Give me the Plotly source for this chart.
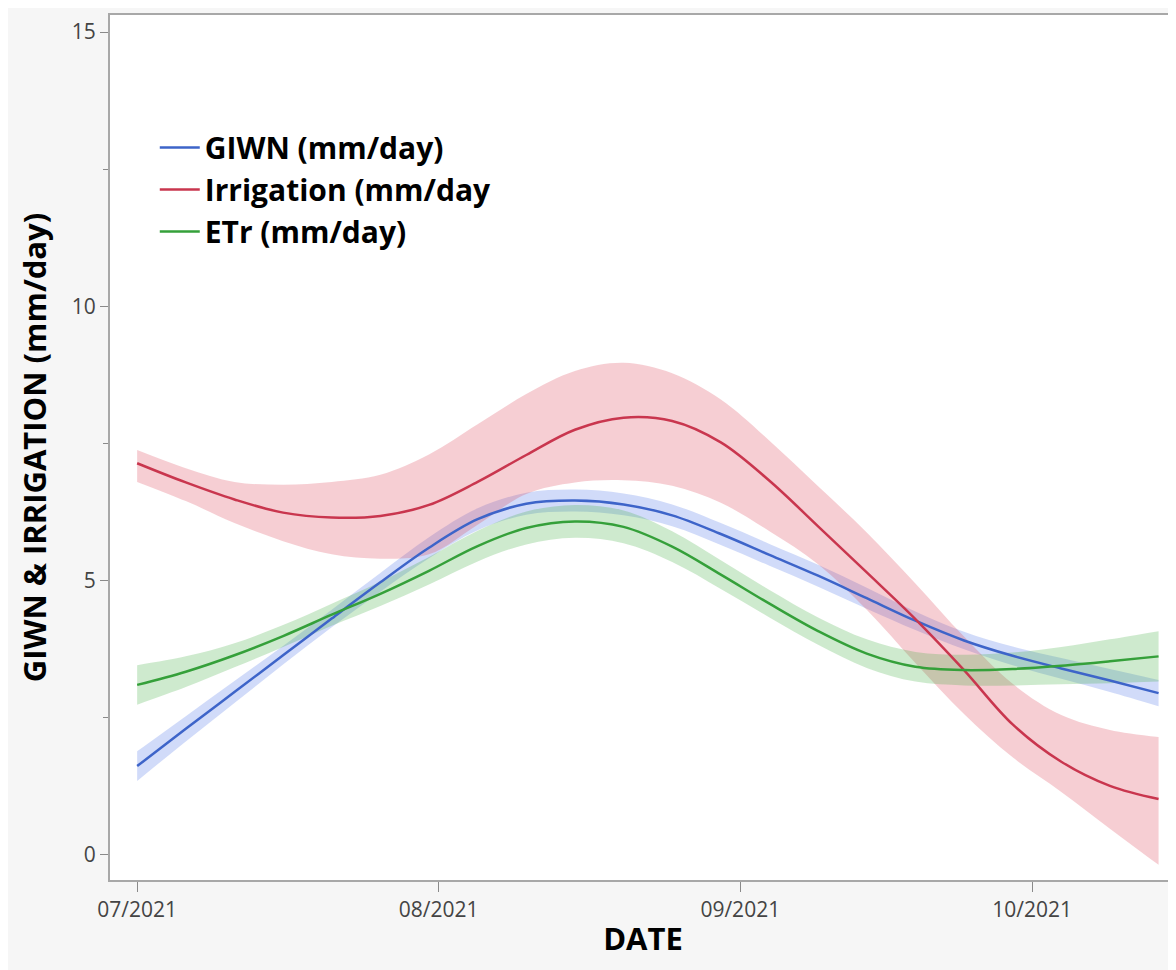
import plotly.graph_objects as go

dates = ["2021-07-01", "2021-07-06", "2021-07-11", "2021-07-16", "2021-07-21", "2021-07-26",
         "2021-07-31", "2021-08-05", "2021-08-10", "2021-08-15", "2021-08-20", "2021-08-25",
         "2021-08-30", "2021-09-04", "2021-09-09", "2021-09-14", "2021-09-19", "2021-09-24",
         "2021-09-29", "2021-10-04", "2021-10-09", "2021-10-14"]

giwn = [1.62, 2.30, 2.97, 3.64, 4.31, 4.97, 5.60, 6.12, 6.40, 6.46, 6.39, 6.19,
        5.85, 5.47, 5.09, 4.68, 4.27, 3.91, 3.63, 3.40, 3.18, 2.95]
giwn_hi = [1.89, 2.53, 3.17, 3.81, 4.47, 5.14, 5.79, 6.32, 6.60, 6.66, 6.59, 6.39,
           6.05, 5.67, 5.29, 4.87, 4.44, 4.07, 3.80, 3.59, 3.39, 3.19]
giwn_lo = [1.35, 2.07, 2.77, 3.47, 4.15, 4.80, 5.41, 5.92, 6.20, 6.26, 6.19, 5.99,
           5.65, 5.27, 4.89, 4.49, 4.10, 3.75, 3.46, 3.21, 2.97, 2.71]

irrigation = [7.14, 6.79, 6.48, 6.24, 6.15, 6.18, 6.38, 6.80, 7.29, 7.75, 7.97, 7.91,
              7.52, 6.82, 5.99, 5.15, 4.30, 3.37, 2.38, 1.70, 1.26, 1.02]
irrigation_hi = [7.38, 7.05, 6.80, 6.75, 6.80, 6.93, 7.30, 7.85, 8.40, 8.82, 8.97, 8.78,
                 8.30, 7.55, 6.72, 5.88, 4.95, 3.98, 3.12, 2.55, 2.28, 2.15]
irrigation_lo = [6.80, 6.45, 6.05, 5.72, 5.48, 5.40, 5.48, 6.02, 6.58, 6.79, 6.83, 6.73,
                 6.42, 5.90, 5.30, 4.47, 3.50, 2.57, 1.78, 1.15, 0.48, -0.18]

etr = [3.10, 3.34, 3.64, 3.99, 4.38, 4.76, 5.18, 5.63, 5.96, 6.08, 5.98, 5.62,
       5.11, 4.58, 4.08, 3.67, 3.43, 3.37, 3.39, 3.45, 3.53, 3.62]
etr_hi = [3.46, 3.62, 3.86, 4.19, 4.58, 4.98, 5.43, 5.91, 6.26, 6.38, 6.28, 5.90,
          5.37, 4.83, 4.33, 3.93, 3.70, 3.65, 3.69, 3.79, 3.93, 4.08]
etr_lo = [2.74, 3.06, 3.42, 3.79, 4.18, 4.54, 4.93, 5.35, 5.66, 5.78, 5.68, 5.34,
          4.85, 4.33, 3.83, 3.41, 3.16, 3.09, 3.09, 3.11, 3.13, 3.16]

series = [
    ("GIWN (mm/day)", giwn, giwn_hi, giwn_lo, "#3d64c9", "rgba(70,110,230,0.25)"),
    ("Irrigation (mm/day", irrigation, irrigation_hi, irrigation_lo, "#c9364e", "rgba(220,60,80,0.25)"),
    ("ETr (mm/day)", etr, etr_hi, etr_lo, "#35a03a", "rgba(60,170,60,0.25)"),
]

fig = go.Figure()
for name, mid, hi, lo, col, band in series:
    fig.add_trace(go.Scatter(x=dates, y=hi, mode="lines", line=dict(width=0, shape="spline"),
                             showlegend=False, hoverinfo="skip"))
    fig.add_trace(go.Scatter(x=dates, y=lo, mode="lines", line=dict(width=0, shape="spline"),
                             fill="tonexty", fillcolor=band, showlegend=False, hoverinfo="skip"))
for name, mid, hi, lo, col, band in series:
    fig.add_trace(go.Scatter(x=dates, y=mid, mode="lines", name=name,
                             line=dict(color=col, width=2.5, shape="spline")))

font_family = "Open Sans, Noto Sans, DejaVu Sans, sans-serif"

fig.update_layout(
    width=1168, height=962,
    margin=dict(l=102, r=0, t=7, b=90),
    paper_bgcolor="#f6f6f6",
    plot_bgcolor="white",
    font=dict(family=font_family, color="#444444", size=21),
    legend=dict(x=0.042, y=0.877, xanchor="left", yanchor="top",
                bgcolor="rgba(0,0,0,0)", itemwidth=40, traceorder="normal",
                font=dict(size=30, color="black", family=font_family, weight="bold"),
                tracegroupgap=0),
    showlegend=True,
)
fig.update_xaxes(
    type="date",
    range=["2021-06-28 05:00", "2021-10-15 19:00"],
    tickvals=["2021-07-01", "2021-08-01", "2021-09-01", "2021-10-01"],
    ticktext=["07/2021", "08/2021", "09/2021", "10/2021"],
    ticks="outside", ticklen=10, tickcolor="#8a8a8a", tickwidth=1,
    showline=True, linecolor="#a8a8a8", linewidth=2, mirror=True,
    showgrid=False, zeroline=False,
    tickfont=dict(size=21, color="#444444"),
    title=dict(text="DATE", font=dict(size=31, color="black", weight="bold"), standoff=6),
)
fig.update_yaxes(
    range=[-0.456, 15.31],
    tickvals=[0, 5, 10, 15],
    ticks="outside", ticklen=8, tickcolor="#8a8a8a", tickwidth=1,
    minor=dict(tickvals=[2.5, 7.5, 12.5], ticks="outside", ticklen=5, tickcolor="#8a8a8a"),
    showline=True, linecolor="#a8a8a8", linewidth=2, mirror=False,
    showgrid=False, zeroline=False,
    tickfont=dict(size=21, color="#444444"),
    title=dict(text="GIWN & IRRIGATION (mm/day)", font=dict(size=31, color="black", weight="bold"),
               standoff=16),
)

fig.write_html("out.html")
